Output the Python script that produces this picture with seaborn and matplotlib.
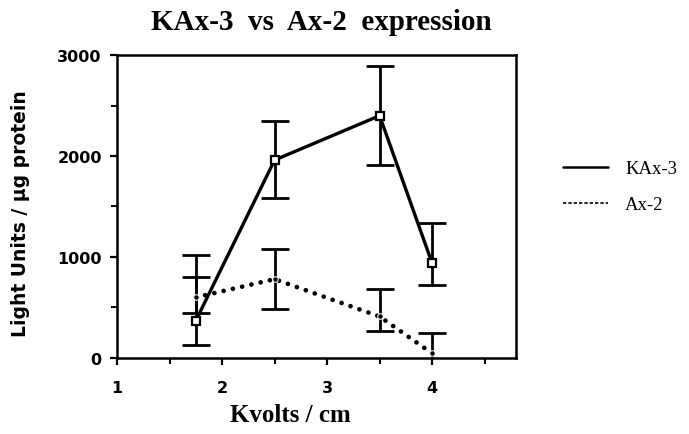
import matplotlib
matplotlib.use("Agg")
import matplotlib.pyplot as plt
from matplotlib.lines import Line2D
import numpy as np
import pandas as pd
import seaborn as sns

# ---------------------------------------------------------------------------
# Data
# ---------------------------------------------------------------------------
kvolts = [1.75, 2.5, 3.5, 4.0]

kax3_mean = [370, 1960, 2400, 940]
kax3_low = [130, 1580, 1915, 725]
kax3_high = [1020, 2345, 2895, 1335]

ax2_mean = [600, 780, 410, 45]
ax2_low = [445, 485, 270, -155]
ax2_high = [805, 1080, 680, 245]

series_names = ["KAx-3", "Ax-2"]

df = pd.DataFrame({
    "Kvolts": kvolts * 2,
    "Light": kax3_mean + ax2_mean,
    "Series": [series_names[0]] * 4 + [series_names[1]] * 4,
})

sns.set_style("ticks")
plt.rcParams.update({
    "text.color": "black",
    "axes.labelcolor": "black",
    "xtick.color": "black",
    "ytick.color": "black",
})
serif = ["Liberation Serif", "DejaVu Serif"]
sans = ["DejaVu Sans"]

fig = plt.figure(figsize=(6.89, 4.35), dpi=100)
ax = fig.add_axes([0.170, 0.175, 0.579, 0.696])

# error bars first, lines on top
for mean, lo, hi in [(kax3_mean, kax3_low, kax3_high), (ax2_mean, ax2_low, ax2_high)]:
    m = np.array(mean)
    yerr = [m - np.array(lo), np.array(hi) - m]
    ax.errorbar(kvolts, m, yerr=yerr, fmt="none", ecolor="black",
                elinewidth=2.0, capsize=10, capthick=2.0, zorder=2)

sns.lineplot(data=df[df.Series == "KAx-3"], x="Kvolts", y="Light", ax=ax,
             color="black", linewidth=2.4, marker="s", markersize=6,
             markerfacecolor="white", markeredgecolor="black",
             markeredgewidth=1.6, legend=False, zorder=3)
sns.lineplot(data=df[df.Series == "Ax-2"], x="Kvolts", y="Light", ax=ax,
             color="black", linewidth=3.4, marker="o", markersize=4,
             legend=False, zorder=3)
ax.lines[-1].set_dashes([0.01, 2.0])
ax.lines[-1].set_dash_capstyle("round")

ax.set_xlim(1, 4.8)
ax.set_ylim(0, 3000)
ax.set_xticks([1, 2, 3, 4])
ax.set_xticks([1.5, 2.5, 3.5, 4.5], minor=True)
ax.set_yticks([0, 1000, 2000, 3000])
ax.set_yticks([500, 1500, 2500], minor=True)
ax.tick_params(axis="both", which="major", length=5, width=1.6, direction="out",
               labelsize=11.5, pad=6)
ax.tick_params(axis="x", which="major", pad=11)
ax.tick_params(axis="both", which="minor", length=4, width=1.4, direction="out")
for lab in ax.get_xticklabels() + ax.get_yticklabels():
    lab.set_fontweight("bold")
    lab.set_family(sans)

for sp in ax.spines.values():
    sp.set_linewidth(1.8)
    sp.set_color("black")

ax.set_xlabel("Kvolts / cm", fontsize=18, fontweight="bold", family=serif)
ax.xaxis.set_label_coords(0.434, -0.15)
ax.set_ylabel("Light Units / µg protein", fontsize=13.5, fontweight="bold", family=sans)
ax.yaxis.set_label_coords(-0.218, 0.48)

fig.text(0.467, 0.948, "KAx-3  vs  Ax-2  expression", ha="center", va="center",
         fontsize=21, fontweight="bold", family=serif)

handles = [
    Line2D([], [], color="black", linewidth=1.8, linestyle="-"),
    Line2D([], [], color="black", linewidth=1.2, dashes=[2, 1.2]),
]
fig.legend(handles, series_names, loc="upper left", bbox_to_anchor=(0.793, 0.668),
           frameon=False, handlelength=2.4, handletextpad=0.9, labelspacing=1.0,
           prop={"family": serif, "size": 13.5})

fig.savefig("out.png", dpi=100)
